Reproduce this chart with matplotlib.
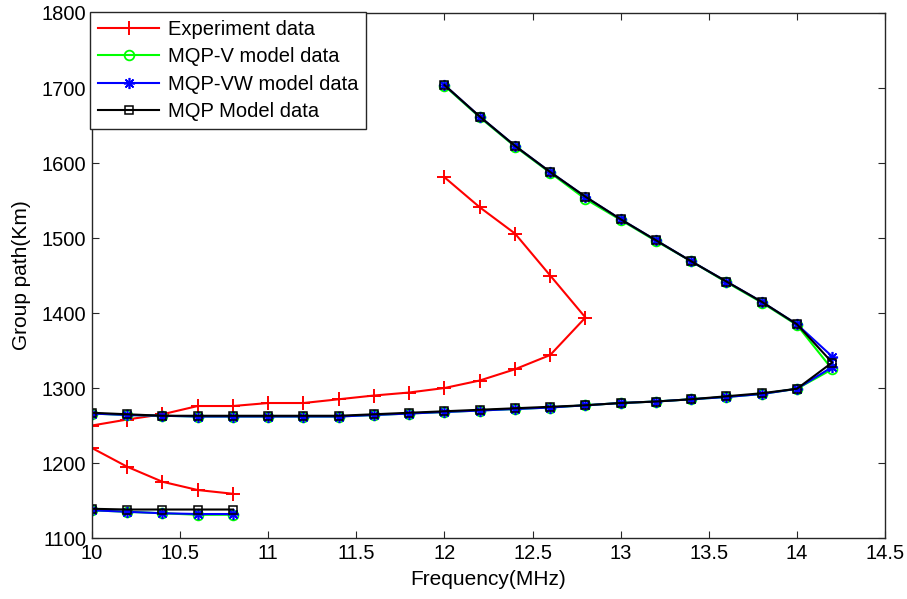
import numpy as np
import matplotlib
matplotlib.use("Agg")
import matplotlib.pyplot as plt

plt.rcParams['font.family'] = ['Liberation Sans', 'DejaVu Sans']

nan = np.nan

# ---- Experiment data ----
exp_low_f = [10.0, 10.2, 10.4, 10.6, 10.8]
exp_low_gp = [1220, 1195, 1175, 1164, 1159]
exp_main_f = [10.0, 10.2, 10.4, 10.6, 10.8, 11.0, 11.2, 11.4, 11.6, 11.8, 12.0,
              12.2, 12.4, 12.6, 12.8, 12.6, 12.4, 12.2, 12.0]
exp_main_gp = [1250, 1258, 1265, 1276, 1276, 1280, 1280, 1285, 1290, 1294, 1300,
               1310, 1325, 1344, 1394, 1450, 1506, 1541, 1581]

# ---- Model frequencies ----
mod_low_f = [10.0, 10.2, 10.4, 10.6, 10.8]
mod_main_f = [10.0, 10.2, 10.4, 10.6, 10.8, 11.0, 11.2, 11.4, 11.6, 11.8, 12.0,
              12.2, 12.4, 12.6, 12.8, 13.0, 13.2, 13.4, 13.6, 13.8, 14.0, 14.2,
              14.0, 13.8, 13.6, 13.4, 13.2, 13.0, 12.8, 12.6, 12.4, 12.2, 12.0]
vw_main_f = [10.0, 10.2, 10.4, 10.6, 10.8, 11.0, 11.2, 11.4, 11.6, 11.8, 12.0,
             12.2, 12.4, 12.6, 12.8, 13.0, 13.2, 13.4, 13.6, 13.8, 14.0, 14.2, 14.2,
             14.0, 13.8, 13.6, 13.4, 13.2, 13.0, 12.8, 12.6, 12.4, 12.2, 12.0]

# ---- MQP-V model data ----
v_low_gp = [1137, 1135, 1133, 1131, 1131]
v_main_gp = [1266, 1264, 1263, 1262, 1262, 1262, 1262, 1262, 1264, 1266, 1268,
             1270, 1272, 1274, 1277, 1280, 1282, 1285, 1288, 1292, 1299, 1325,
             1384, 1414, 1441, 1469, 1496, 1524, 1552, 1587, 1622, 1661, 1703]

# ---- MQP-VW model data ----
vw_low_gp = [1137, 1135, 1133, 1132, 1132]
vw_main_gp = [1266, 1264, 1263, 1262, 1262, 1262, 1262, 1262, 1264, 1266, 1268,
              1270, 1272, 1274, 1277, 1280, 1282, 1285, 1288, 1292, 1299, 1328, 1342,
              1385, 1415, 1442, 1469, 1497, 1525, 1555, 1588, 1623, 1662, 1704]

# ---- MQP model data ----
m_low_gp = [1139, 1138, 1138, 1138, 1138]
m_main_gp = [1267, 1265, 1263, 1263, 1263, 1263, 1263, 1263, 1265, 1267, 1269,
             1271, 1273, 1275, 1277, 1280, 1282, 1285, 1289, 1293, 1299, 1334,
             1385, 1415, 1442, 1469, 1497, 1525, 1555, 1588, 1623, 1662, 1704]

x_ticks = [10, 10.5, 11, 11.5, 12, 12.5, 13, 13.5, 14, 14.5]
x_tick_labels = ['10', '10.5', '11', '11.5', '12', '12.5', '13', '13.5', '14', '14.5']
y_ticks = [1100, 1200, 1300, 1400, 1500, 1600, 1700, 1800]


def joined(f1, g1, f2, g2):
    return list(f1) + [nan] + list(f2), list(g1) + [nan] + list(g2)


fig = plt.figure(figsize=(9.07, 5.99), dpi=100)
ax = fig.add_axes([0.1014, 0.1018, 0.8744, 0.8765])

ef, eg = joined(exp_low_f, exp_low_gp, exp_main_f, exp_main_gp)
ax.plot(ef, eg, color='#ff0000', lw=1.5, marker='+', ms=10, mew=1.4,
        label='Experiment data')

vf, vg = joined(mod_low_f, v_low_gp, mod_main_f, v_main_gp)
ax.plot(vf, vg, color='#00ff00', lw=1.5, marker='o', ms=7, mfc='none', mew=1.3,
        label='MQP-V model data')

wf, wg = joined(mod_low_f, vw_low_gp, vw_main_f, vw_main_gp)
ax.plot(wf, wg, color='#0000ff', lw=1.5, marker=(8, 2, 0), ms=8, mew=1.2,
        label='MQP-VW model data')

mf, mg = joined(mod_low_f, m_low_gp, mod_main_f, m_main_gp)
ax.plot(mf, mg, color='black', lw=1.5, marker='s', ms=6, mfc='none', mew=1.1,
        label='MQP Model data')

ax.set_xlim(10, 14.5)
ax.set_ylim(1100, 1800)
ax.set_xticks(x_ticks)
ax.set_xticklabels(x_tick_labels)
ax.set_yticks(y_ticks)
ax.tick_params(direction='in', length=5, width=0.8, top=True, right=True,
               labelsize=14.5, pad=4, colors='#262626', labelcolor='black')
for s in ax.spines.values():
    s.set_linewidth(1.0)
    s.set_color('#262626')

ax.set_xlabel('Frequency(MHz)', fontsize=15, labelpad=5)
ax.set_ylabel('Group path(Km)', fontsize=15, labelpad=8)

leg = ax.legend(loc='upper left', bbox_to_anchor=(-0.002, 1.002), borderaxespad=0,
                fontsize=14.5, frameon=True, fancybox=False, framealpha=1,
                edgecolor='#262626', handlelength=3.0, handletextpad=0.45,
                labelspacing=0.42, borderpad=0.4)
leg.get_frame().set_linewidth(1.0)

fig.savefig('out.png', dpi=100)
